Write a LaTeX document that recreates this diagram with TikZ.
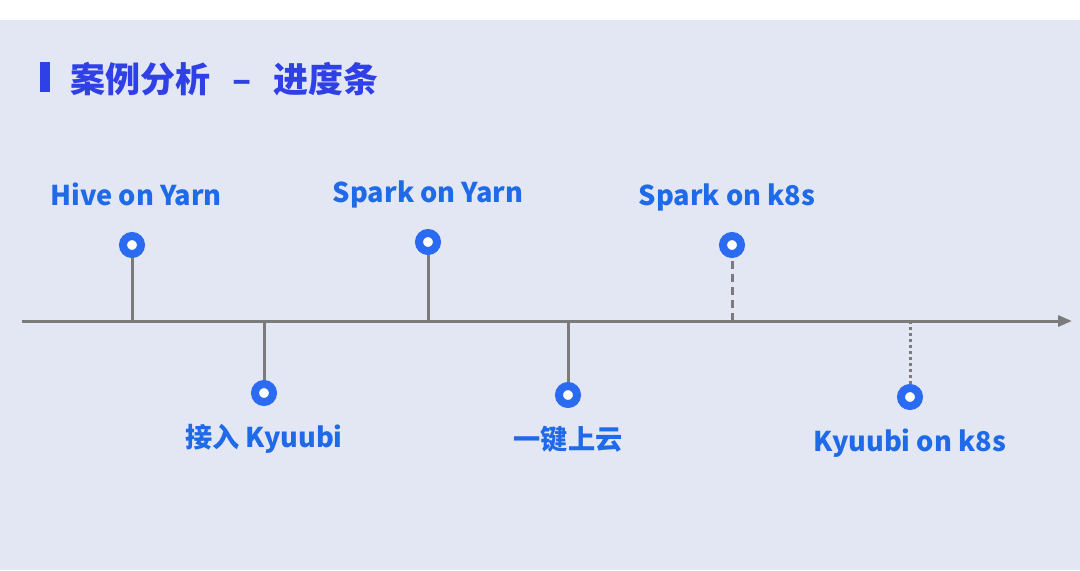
\documentclass[tikz,border=0pt]{standalone}
\usepackage{fontspec}
\setmainfont{Noto Sans CJK SC}
\usetikzlibrary{arrows.meta, positioning}
\definecolor{paper}{HTML}{E3E6F3}
\definecolor{titleblue}{HTML}{2F40E6}
\definecolor{lblblue}{HTML}{1F6AE8}
\definecolor{dotblue}{HTML}{2A6BF2}
\definecolor{axisgray}{HTML}{7B7B7B}

\begin{document}
\begin{tikzpicture}[
        x=0.5pt, y=-0.5pt,
        >={Triangle[length=7pt, width=5.5pt]},
        node distance=10pt,
        % Estilos de la línea de tiempo
        axis/.style={->, draw=axisgray, line width=1.5pt},
        stem/.style={draw=axisgray, line width=1.5pt},
        dot/.style={circle, draw=dotblue, fill=white, line width=4pt, minimum size=9pt, inner sep=0pt},
        lbl/.style={text=lblblue, font=\fontsize{13.6}{16}\selectfont\bfseries, inner sep=0pt, text depth=0pt}
    ]
        \useasboundingbox (0,0) rectangle (1080,570);
        % Fondo
        \fill[white] (0,0) rectangle (1080,20);
        \fill[paper] (0,20) rectangle (1080,570);

        % Título
        \fill[titleblue] (40,62) rectangle (50,92);
        \node[anchor=west, inner sep=0pt, text=titleblue, font=\fontsize{17.5}{20}\selectfont\bfseries] (title) at (70,79) {案例分析\hspace{11pt}–\hspace{11pt}进度条};

        % Eje
        \coordinate (start) at (22,321);
        \coordinate (end) at (1072,321);
        \draw[axis] (start) -- (end);

        % Puntos de la línea de tiempo
        \coordinate (a1) at (132,321);
        \coordinate (a2) at (264,321);
        \coordinate (a3) at (428,321);
        \coordinate (a4) at (568,321);
        \coordinate (a5) at (732,321);
        \coordinate (a6) at (910,321);

        \node[dot] (hive) at (132,245) {};
        \node[dot] (kyuubi) at (264,393) {};
        \node[dot] (spark) at (428,242) {};
        \node[dot] (cloud) at (568,395) {};
        \node[dot] (sparkk) at (732,245) {};
        \node[dot] (kyuubik) at (910,397) {};

        \draw[stem] (a1) -- (hive);
        \draw[stem] (a2) -- (kyuubi);
        \draw[stem] (a3) -- (spark);
        \draw[stem] (a4) -- (cloud);
        \draw[stem, dash pattern=on 4pt off 2.5pt] (a5) -- (sparkk);
        \draw[stem, dash pattern=on 1.5pt off 1.5pt] (a6) -- (kyuubik);

        % Etiquetas
        \node[lbl, above=13pt of hive, xshift=2pt] (hivel) {Hive on Yarn};
        \node[lbl, below=9pt of kyuubi] (kyuubil) {接入 Kyuubi};
        \node[lbl, above=13pt of spark] (sparkl) {Spark on Yarn};
        \node[lbl, below=9pt of cloud] (cloudl) {一键上云};
        \node[lbl, above=13pt of sparkk, xshift=-2.5pt] (sparkkl) {Spark on k8s};
        \node[lbl, below=9pt of kyuubik] (kyuubikl) {Kyuubi on k8s};
    \end{tikzpicture}
\end{document}
